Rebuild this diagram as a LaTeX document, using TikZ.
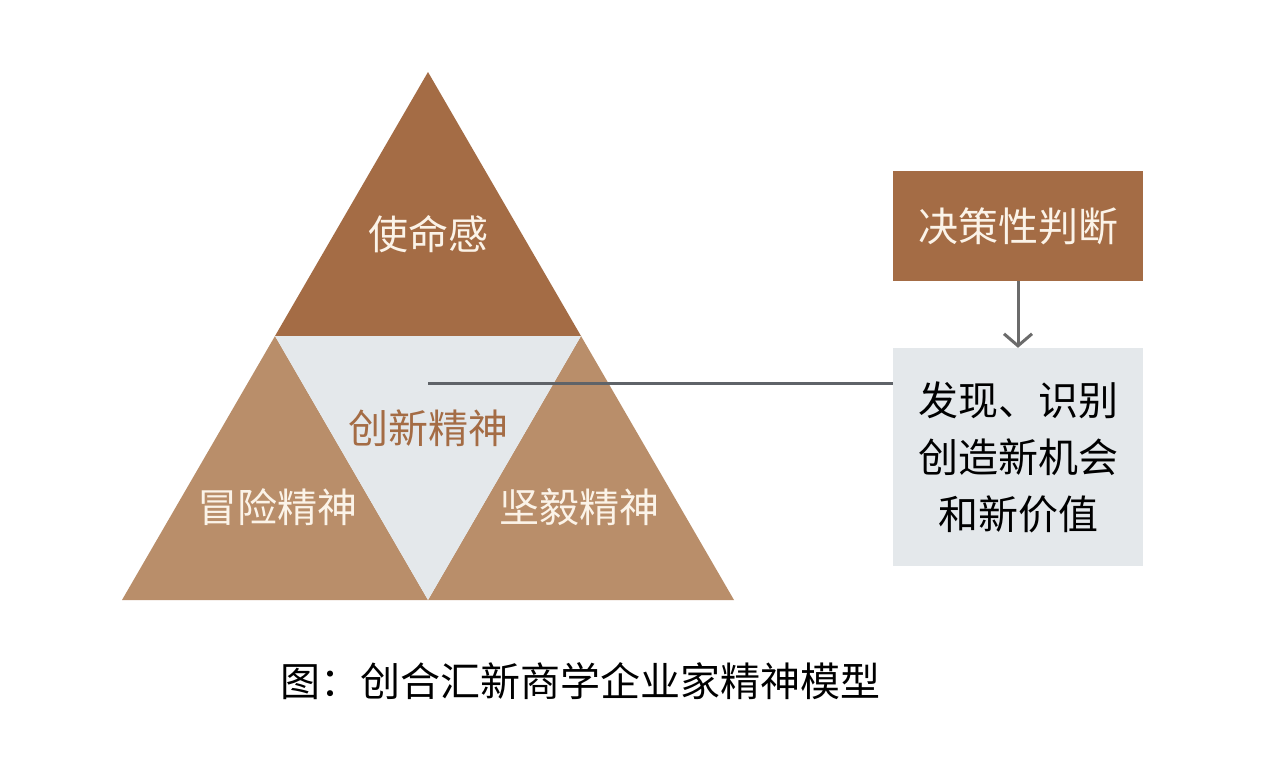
\documentclass[tikz,border=0pt]{standalone}
\usepackage{fontspec}
\setmainfont{Noto Sans CJK SC}
\usetikzlibrary{arrows.meta}
\definecolor{darkbrown}{HTML}{A46C45}
\definecolor{lightbrown}{HTML}{B98E6A}
\definecolor{paleblue}{HTML}{E4E8EB}
\definecolor{linegray}{HTML}{5F6368}
\definecolor{arrowgray}{HTML}{6B6B6B}
\definecolor{cream}{HTML}{FBF3E8}
\tikzset{
  lbl/.style={font=\fontsize{40}{57}\selectfont, inner sep=0pt},
  boxnode/.style={minimum width=250pt, inner sep=0pt, align=center, font=\fontsize{40}{57}\selectfont},
  conn/.style={draw=linegray, line width=3pt}
}
\begin{document}
\begin{tikzpicture}[x=1pt,y=-1pt]
\useasboundingbox[fill=white] (0,0) rectangle (1280,779);
% triangles
\coordinate (apex) at (428,72);
\coordinate (bl) at (122,600);
\coordinate (br) at (734,600);
\coordinate (ml) at (275,336);
\coordinate (mr) at (581,336);
\coordinate (bm) at (428,600);
\fill[lightbrown] (ml) -- (bl) -- (bm) -- cycle;
\fill[lightbrown] (mr) -- (bm) -- (br) -- cycle;
\fill[darkbrown] (apex) -- (ml) -- (mr) -- cycle;
\fill[paleblue] (ml) -- (mr) -- (bm) -- cycle;
\node[lbl, text=cream] (top) at (428,234) {使命感};
\node[lbl, text=darkbrown] (mid) at (428,428) {创新精神};
\node[lbl, text=cream] (left) at (277,507) {冒险精神};
\node[lbl, text=cream] (right) at (579,507) {坚毅精神};
% boxes
\node[boxnode, fill=darkbrown, text=cream, minimum height=110pt] (decide) at (1018,226) {决策性判断};
\node[boxnode, fill=paleblue, text=black, minimum height=218pt] (find) at (1018,457) {发现、识别\\创造新机会\\和新价值};
% connectors
\coordinate (c) at (428,383);
\draw[conn] (c) -- (c -| find.west);
\draw[conn, draw=arrowgray, -{Straight Barb[length=12pt,width=28pt,line width=3pt]}] (decide.south) -- (find.north);
% caption
\node[lbl, text=black] (cap) at (580,681) {图：创合汇新商学企业家精神模型};
\end{tikzpicture}
\end{document}
